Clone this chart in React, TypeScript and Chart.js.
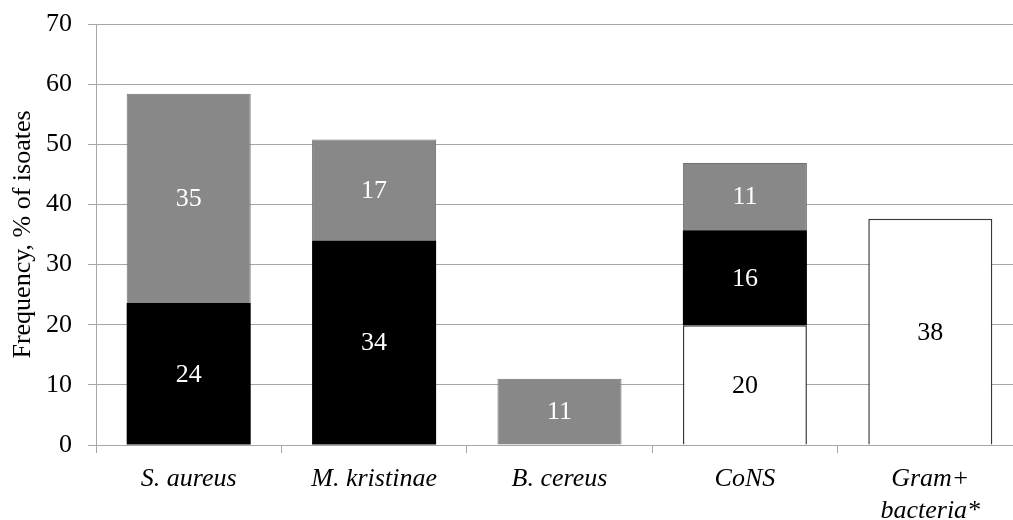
import React, { useEffect, useRef } from "react";
import { Chart, registerables } from "chart.js";

Chart.register(...registerables);

const categories: (string | string[])[] = ["S. aureus", "M. kristinae", "B. cereus", "CoNS", ["Gram+", "bacteria*"]];
const whiteValues = [0, 0, 0, 19.9, 37.6];
const blackValues = [23.6, 34.0, 0, 15.8, 0];
const grayValues = [34.8, 16.8, 11.0, 11.2, 0];
const yTicks = { min: 0, max: 70, step: 10 };
const yTitle = "Frequency, % of isoates";

const FONT = "'Liberation Serif', 'Times New Roman', serif";
const GRID = "#a6a6a6";
const FS = 26;

const labelPlugin = {
  id: "barValueLabels",
  afterDatasetsDraw(chart: any) {
    const ctx = chart.ctx;
    ctx.save();
    ctx.font = `${FS}px ${FONT}`;
    ctx.textAlign = "center";
    ctx.textBaseline = "middle";
    chart.data.datasets.forEach((ds: any, di: number) => {
      const meta = chart.getDatasetMeta(di);
      meta.data.forEach((el: any, i: number) => {
        const v = ds.data[i];
        if (!v) return;
        const p = el.getCenterPoint();
        ctx.fillStyle = ds.labelColor;
        ctx.fillText(String(Math.round(v)), p.x, p.y + 1);
      });
    });
    ctx.restore();
  },
};

export default function App() {
  const ref = useRef<HTMLCanvasElement>(null);
  useEffect(() => {
    let chart: Chart | null = null;
    let cancelled = false;
    const build = () => {
      if (cancelled || !ref.current) return;
      chart = new Chart(ref.current, {
        type: "bar",
        data: {
          labels: categories,
          datasets: [
            {
              label: "white",
              data: whiteValues,
              backgroundColor: "#ffffff",
              borderColor: "#3a3a3a",
              borderWidth: 1.5,
              labelColor: "#000000",
            } as any,
            {
              label: "black",
              data: blackValues,
              backgroundColor: "#000000",
              borderColor: "#000000",
              borderWidth: 0,
              labelColor: "#ffffff",
            } as any,
            {
              label: "gray",
              data: grayValues,
              backgroundColor: "#888888",
              borderColor: "#707070",
              borderWidth: 1,
              labelColor: "#ffffff",
            } as any,
          ],
        },
        options: {
          responsive: false,
          animation: false,
          devicePixelRatio: 1,
          layout: { padding: { top: 24, right: 0, bottom: 0, left: 0 } },
          plugins: { legend: { display: false }, tooltip: { enabled: false } },
          datasets: { bar: { categoryPercentage: 1, barPercentage: 0.669 } },
          scales: {
            x: {
              stacked: true,
              grid: { display: true, drawOnChartArea: false, drawTicks: true, tickLength: 8, color: GRID, offset: true },
              border: { display: true, color: GRID, width: 1 },
              ticks: {
                color: "#000",
                padding: 10,
                maxRotation: 0,
                autoSkip: false,
                font: { family: FONT, size: FS, style: "italic", lineHeight: 1.23 },
              },
              afterFit: (s: any) => { s.height = 75; s.paddingLeft = 0; s.paddingRight = 0; },
            },
            y: {
              stacked: true,
              min: yTicks.min,
              max: yTicks.max,
              ticks: {
                stepSize: yTicks.step,
                color: "#000",
                padding: 16,
                font: { family: FONT, size: FS },
              },
              grid: { color: GRID, tickLength: 8, lineWidth: 1 },
              border: { display: true, color: GRID, width: 1 },
              title: {
                display: true,
                text: yTitle,
                color: "#000",
                font: { family: FONT, size: FS, lineHeight: 1.2 },
                padding: { top: 8, bottom: 0 },
              },
              afterFit: (s: any) => { s.width = 96; s.paddingTop = 0; s.paddingBottom = 0; },
            },
          },
        },
        plugins: [labelPlugin],
      });
    };
    const fonts: any = (document as any).fonts;
    if (fonts && fonts.load) {
      Promise.all([
        fonts.load(`${FS}px 'Liberation Serif'`),
        fonts.load(`italic ${FS}px 'Liberation Serif'`),
      ]).then(build, build);
    } else {
      build();
    }
    return () => {
      cancelled = true;
      if (chart) chart.destroy();
    };
  }, []);
  return (
    <div style={{ position: "absolute", left: 0, top: 0, width: 1013, height: 520, overflow: "hidden", background: "#fff" }}>
      <canvas ref={ref} width={1023} height={520} style={{ display: "block" }} />
    </div>
  );
}
